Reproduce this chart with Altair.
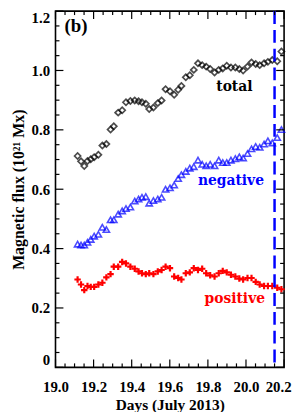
import altair as alt
import pandas as pd

# ---- data ----
days = [19.116, 19.134, 19.151, 19.168, 19.185, 19.203, 19.225, 19.246, 19.267, 19.289,
        19.306, 19.329, 19.350, 19.370, 19.393, 19.416, 19.436, 19.454, 19.474, 19.492,
        19.514, 19.537, 19.557, 19.578, 19.601, 19.623, 19.644, 19.661, 19.684, 19.705,
        19.726, 19.748, 19.770, 19.791, 19.812, 19.835, 19.857, 19.878, 19.899, 19.921,
        19.944, 19.965, 19.985, 20.008, 20.029, 20.051, 20.072, 20.095, 20.115, 20.138,
        20.164, 20.186]

total = [0.712, 0.694, 0.678, 0.695, 0.701, 0.708, 0.716, 0.747, 0.752, 0.801,
         0.812, 0.858, 0.866, 0.893, 0.897, 0.899, 0.896, 0.893, 0.888, 0.870,
         0.875, 0.890, 0.899, 0.937, 0.930, 0.918, 0.935, 0.948, 0.977, 0.984,
         1.002, 1.024, 1.018, 1.013, 1.005, 0.993, 1.002, 1.007, 1.016, 1.010,
         1.010, 1.005, 1.000, 1.013, 1.027, 1.022, 1.018, 1.024, 1.029, 1.035,
         1.031, 1.064]

negative = [0.415, 0.412, 0.412, 0.421, 0.431, 0.442, 0.448, 0.472, 0.464, 0.497,
            0.497, 0.516, 0.527, 0.535, 0.540, 0.560, 0.567, 0.573, 0.575, 0.553,
            0.562, 0.567, 0.573, 0.600, 0.605, 0.614, 0.636, 0.649, 0.660, 0.671,
            0.676, 0.698, 0.684, 0.679, 0.684, 0.679, 0.698, 0.690, 0.690, 0.698,
            0.703, 0.709, 0.705, 0.720, 0.736, 0.744, 0.741, 0.752, 0.763, 0.756,
            0.774, 0.801]

positive = [0.296, 0.279, 0.260, 0.274, 0.271, 0.271, 0.279, 0.285, 0.303, 0.314,
            0.339, 0.339, 0.355, 0.350, 0.339, 0.332, 0.323, 0.317, 0.314, 0.317,
            0.314, 0.323, 0.328, 0.339, 0.334, 0.306, 0.301, 0.296, 0.317, 0.320,
            0.334, 0.328, 0.332, 0.317, 0.310, 0.306, 0.317, 0.325, 0.320, 0.312,
            0.306, 0.299, 0.296, 0.301, 0.301, 0.288, 0.279, 0.274, 0.274, 0.274,
            0.268, 0.263]

x_major = [19.0, 19.2, 19.4, 19.6, 19.8, 20.0, 20.2]
x_minor = [19.05, 19.10, 19.15, 19.25, 19.30, 19.35, 19.45, 19.50, 19.55,
           19.65, 19.70, 19.75, 19.85, 19.90, 19.95, 20.05, 20.10, 20.15]
y_major = [0.0, 0.2, 0.4, 0.6, 0.8, 1.0, 1.2]
y_minor = [0.05, 0.10, 0.15, 0.25, 0.30, 0.35, 0.45, 0.50, 0.55, 0.65, 0.70, 0.75,
           0.85, 0.90, 0.95, 1.05, 1.10, 1.15]

event_day = [20.15]

label_text = ["total", "negative", "positive"]
label_day = [19.939, 19.921, 19.941]
label_flux = [0.945, 0.628, 0.231]
label_color = ["black", "#0000ff", "#ff0000"]

panel_text = ["(b)"]
panel_day = [19.047]
panel_flux = [1.148]

# ---- styling ----
W, H = 231, 360
SERIF = "Liberation Serif"
BLUE = "#0000ff"
RED = "#ff0000"

xscale = alt.Scale(domain=[19.0, 20.2], nice=False, zero=False)
yscale = alt.Scale(domain=[0, 1.2], nice=False, zero=False)

xaxis = alt.Axis(values=x_major, format=".1f", ticks=False, domain=False, grid=False,
                 labelFont=SERIF, labelFontSize=15, labelFontWeight="bold", labelColor="black",
                 labelPadding=12, labelFlush=False, labelOverlap=False,
                 labelOffset=alt.condition("datum.value > 20.1", alt.value(-6), alt.value(0)),
                 title="Days (July 2013)", titleFont=SERIF, titleFontSize=15.5,
                 titleFontWeight="bold", titleColor="black", titlePadding=4)
yaxis = alt.Axis(values=y_major, labelExpr="datum.value == 0 ? '0' : format(datum.value, '.1f')",
                 ticks=False, domain=False, grid=False,
                 labelFont=SERIF, labelFontSize=15, labelFontWeight="bold", labelColor="black",
                 labelPadding=6, labelFlush=True, labelFlushOffset=0, labelOverlap=False,
                 title="Magnetic flux (10²¹ Mx)", titleFont=SERIF, titleFontSize=16,
                 titleFontWeight="bold", titleColor="black", titlePadding=5)


def X(field):
    return alt.X(field, type="quantitative", scale=xscale, axis=xaxis)


def Y(field):
    return alt.Y(field, type="quantitative", scale=yscale, axis=yaxis)


series = pd.DataFrame({"day": days, "total": total, "negative": negative, "positive": positive})

base = alt.Chart(series)

total_pts = base.mark_point(shape="diamond", filled=False, color="black", size=38,
                            strokeWidth=1.7).encode(x=X("day"), y=Y("total"))
neg_pts = base.mark_point(shape="triangle-up", filled=False, color=BLUE, size=40,
                          strokeWidth=1.6).encode(x=X("day"), y=Y("negative"))
pos_pts = base.mark_point(shape="M-1,0L1,0M0,-1L0,1", filled=False, color=RED, size=42,
                          strokeWidth=2.2, opacity=1).encode(x=X("day"), y=Y("positive"))

ev = alt.Chart(pd.DataFrame({"day": event_day})).mark_rule(
    color=BLUE, strokeWidth=2.5, strokeDash=[13, 6]).encode(x=X("day"))

labels = alt.Chart(pd.DataFrame({"day": label_day, "flux": label_flux, "txt": label_text,
                                 "col": label_color})).mark_text(
    font="DejaVu Serif", fontSize=14, fontWeight="bold", align="center", baseline="middle"
).encode(x=X("day"), y=Y("flux"), text="txt:N", color=alt.Color("col:N", scale=None))

panel = alt.Chart(pd.DataFrame({"day": panel_day, "flux": panel_flux, "txt": panel_text})).mark_text(
    font=SERIF, fontSize=19, fontWeight="bold", align="left", baseline="middle", color="black"
).encode(x=X("day"), y=Y("flux"), text="txt:N")


def yticks(vals, x0, x1):
    return alt.Chart(pd.DataFrame({"v": vals})).mark_rule(
        color="black", strokeWidth=1.2
    ).encode(y=Y("v"), x=alt.value(x0), x2=alt.value(x1))


def xticks(vals, y0, y1):
    return alt.Chart(pd.DataFrame({"v": vals})).mark_rule(
        color="black", strokeWidth=1.2
    ).encode(x=X("v"), y=alt.value(y0), y2=alt.value(y1))


MAJ, MIN = 8, 4
ticks = [
    yticks(y_major, 0, MAJ), yticks(y_minor, 0, MIN),
    yticks(y_major, W - MAJ, W), yticks(y_minor, W - MIN, W),
    xticks(x_major, H - MAJ, H), xticks(x_minor, H - MIN, H),
    xticks(x_major, 0, MAJ), xticks(x_minor, 0, MIN),
]

chart = alt.layer(
    total_pts, neg_pts, pos_pts, ev, labels, panel, *ticks
).properties(
    width=W, height=H,
    autosize=alt.AutoSizeParams(type="none"),
    padding={"left": 48, "top": 1, "right": 8, "bottom": 43},
).configure_view(stroke="black", strokeWidth=1.6)

chart.save("out.html", embed_options={"renderer": "svg", "actions": False})
